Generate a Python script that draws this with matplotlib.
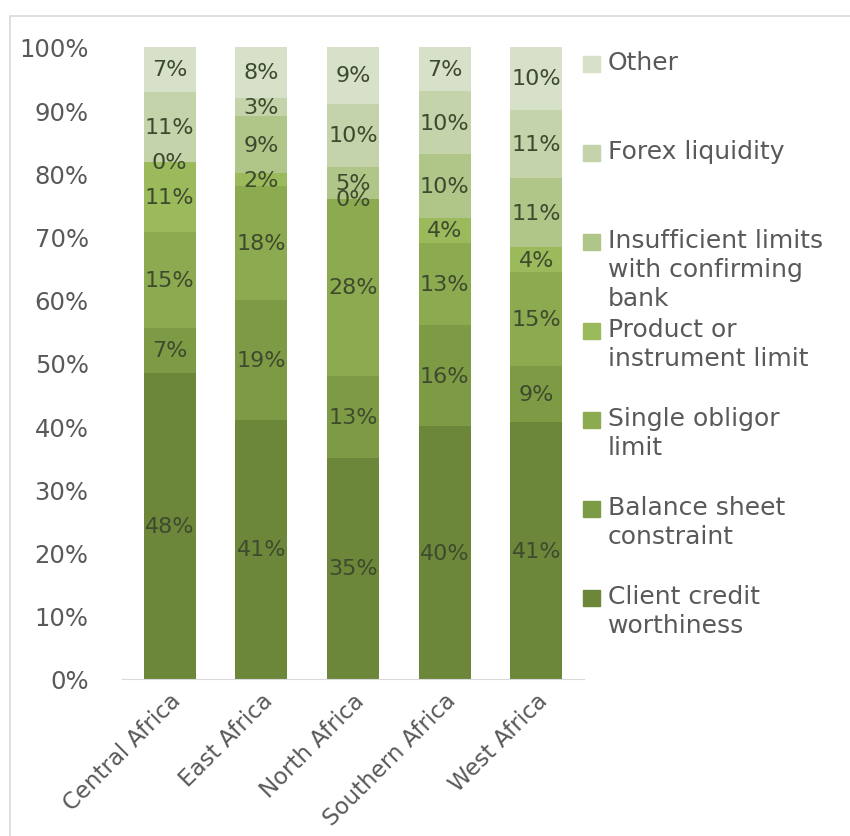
import numpy as np
import matplotlib
matplotlib.use("Agg")
from matplotlib import pyplot as plt
from matplotlib.patches import Rectangle
from matplotlib.transforms import ScaledTranslation

plt.rcParams['font.family'] = ['DejaVu Sans']

regions = ['Central Africa', 'East Africa', 'North Africa', 'Southern Africa', 'West Africa']

# stacked from the bottom up
series = ['Client credit\nworthiness',
          'Balance sheet\nconstraint',
          'Single obligor\nlimit',
          'Product or\ninstrument limit',
          'Insufficient limits\nwith confirming\nbank',
          'Forex liquidity',
          'Other']

client_credit = [48, 41, 35, 40, 41]
balance_sheet = [7, 19, 13, 16, 9]
single_obligor = [15, 18, 28, 13, 15]
product_limit = [11, 2, 0, 4, 4]
insufficient_limits = [0, 9, 5, 10, 11]
forex_liquidity = [11, 3, 10, 10, 11]
other = [7, 8, 9, 7, 10]

colors = ['#6d873a', '#7d9b45', '#8cab50', '#9aba5b',
          '#b0c688', '#c4d3a9', '#d7e0c8']

values = np.array([client_credit, balance_sheet, single_obligor, product_limit,
                   insufficient_limits, forex_liquidity, other], dtype=float)
# 100% stacked: each region's column adds up to 1
shares = values / values.sum(axis=0)

fig = plt.figure(figsize=(8.5, 8.37), dpi=100)
ax = fig.add_axes([0.1435, 0.1876, 0.5435, 0.7551])

# thin chart-area border
fig.patches.append(Rectangle((10 / 850, -0.1), 1.2, 1 - 17 / 837 + 0.1,
                             transform=fig.transFigure, fill=False,
                             edgecolor='#d9d9d9', linewidth=1.2))

x = np.arange(len(regions))
bottom = np.zeros(len(regions))
for i, name in enumerate(series):
    ax.bar(x, shares[i], 0.57, bottom=bottom, color=colors[i], linewidth=0)
    for j in range(len(regions)):
        ax.text(x[j], bottom[j] + shares[i][j] / 2, f'{values[i][j]:.0f}%',
                ha='center', va='center', fontsize=16, color='#3e4a2e')
    bottom += shares[i]

ax.set_xlim(-0.52, 4.52)
ax.set_ylim(0, 1)
ax.set_yticks(np.arange(0, 1.01, 0.1))
ax.set_yticklabels([f'{t}%' for t in range(0, 101, 10)], fontsize=17.5, color='#595959')
ax.set_xticks(x)
ax.set_xticklabels(regions, rotation=45, ha='right', rotation_mode='anchor',
                   fontsize=16.5, color='#595959')
shift = ScaledTranslation(8 / 100, 0, fig.dpi_scale_trans)
for lbl in ax.get_xticklabels():
    lbl.set_transform(lbl.get_transform() + shift)
ax.tick_params(length=0)
ax.tick_params(axis='y', pad=24)
ax.tick_params(axis='x', pad=7)
for side in ['left', 'right', 'top']:
    ax.spines[side].set_visible(False)
ax.spines['bottom'].set_color('#d9d9d9')

# legend, topmost series first
for k, i in enumerate(range(len(series) - 1, -1, -1)):
    y = 1 - (65 + 89 * k) / 837
    fig.patches.append(Rectangle((583 / 850, y - 8 / 837), 17 / 850, 16 / 837,
                                 transform=fig.transFigure, color=colors[i]))
    fig.text(608 / 850, y + 14 / 837, series[i], ha='left', va='top',
             fontsize=18, color='#595959', linespacing=1.27)

fig.savefig('out.png', dpi=100)
